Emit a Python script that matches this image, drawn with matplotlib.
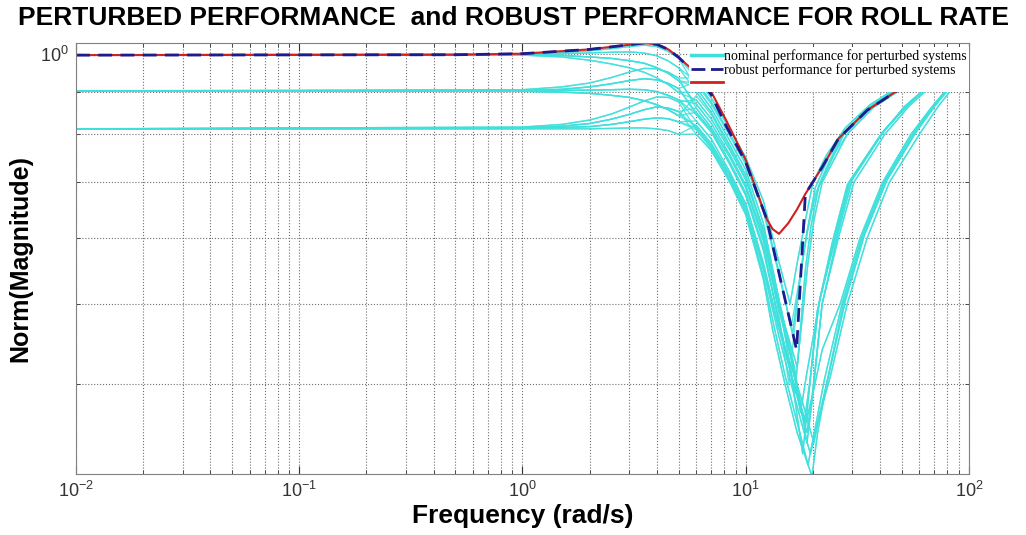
import numpy as np
import matplotlib.pyplot as plt
from matplotlib.lines import Line2D
from matplotlib.ticker import FixedLocator, NullFormatter

plt.rcParams['font.family'] = ['Liberation Sans', 'DejaVu Sans']
plt.rcParams['mathtext.default'] = 'regular'

# perturbed (nominal performance) curves: low frequency part, f <= 5 rad/s
f_left = [0.01, 1.0, 1.5, 2.0, 2.5, 3.0, 3.5, 4.0, 4.5, 5.0]
left_mag = {
    'T1': [0.997, 0.999, 1.003, 1.008, 1.014, 1.020, 1.024, 1.020, 1.006, 0.988],
    'T2': [0.997, 0.998, 1.000, 1.002, 1.004, 1.005, 1.002, 0.994, 0.980, 0.962],
    'T3': [0.997, 0.997, 0.995, 0.991, 0.987, 0.981, 0.974, 0.962, 0.947, 0.928],
    'T4': [0.997, 0.996, 0.991, 0.982, 0.972, 0.962, 0.950, 0.935, 0.918, 0.898],
    'M1': [0.902, 0.905, 0.912, 0.922, 0.936, 0.950, 0.960, 0.959, 0.950, 0.935],
    'M2': [0.902, 0.903, 0.906, 0.912, 0.920, 0.928, 0.933, 0.930, 0.921, 0.908],
    'M3': [0.902, 0.902, 0.903, 0.904, 0.905, 0.906, 0.905, 0.900, 0.891, 0.880],
    'M4': [0.902, 0.901, 0.899, 0.896, 0.891, 0.886, 0.878, 0.868, 0.856, 0.842],
    'B1': [0.812, 0.816, 0.822, 0.832, 0.846, 0.862, 0.877, 0.887, 0.886, 0.875],
    'B2': [0.812, 0.814, 0.818, 0.824, 0.834, 0.845, 0.856, 0.863, 0.860, 0.852],
    'B3': [0.812, 0.813, 0.815, 0.817, 0.822, 0.828, 0.834, 0.837, 0.835, 0.828],
    'B4': [0.812, 0.812, 0.812, 0.812, 0.813, 0.814, 0.814, 0.812, 0.808, 0.800],
}

# perturbed curves: roll-off, notch and recovery, f >= 6 rad/s
right_freq = {
    'R1': [6, 7, 8.5, 10, 12, 14, 15.8, 17, 18.5, 20, 23, 28, 36, 53, 70, 100],
    'R2': [6, 7, 8.5, 10, 12, 14, 16.2, 17.4, 18.8, 20.5, 23.5, 28, 36, 53, 70, 100],
    'R3': [6, 7, 8.5, 10, 12, 14, 16.6, 17.4, 18.5, 19.6, 21.2, 27.5, 36, 53, 70, 100],
    'R4': [6, 7, 8.5, 10, 12, 14, 17.0, 17.9, 19.0, 20.2, 22, 28.5, 37, 54, 72, 100],
    'R5': [6, 7, 8.5, 10, 12, 14, 16, 18.3, 19.3, 21.3, 25, 29, 40.5, 52, 69, 85, 100],
    'R6': [6, 7, 8.5, 10, 12, 14, 16, 18.0, 19.0, 20.9, 24.5, 28.5, 40, 51, 68, 84, 100],
    'R7': [6, 7, 8.5, 10, 12, 14, 16, 17.6, 18.7, 21.6, 25.5, 29.5, 41, 53, 70, 86, 100],
    'R8': [6, 7, 8.5, 10, 12, 14, 16.5, 18.8, 19.8, 22, 26, 30, 42, 54, 71, 87, 100],
    'R9': [6, 7, 8.5, 10, 12, 13.2, 15, 17, 19.8, 21, 23, 27.4, 33.5, 42, 57, 70, 86, 100],
    'R10': [6, 7, 8.5, 10, 12, 13.5, 15, 17, 19.0, 20.5, 22.5, 27, 33, 41.5, 56, 69, 85, 100],
    'R11': [6, 7, 8.5, 10, 12, 14, 16, 18, 20.2, 21.5, 23.5, 28, 34, 43, 58, 71, 87, 100],
    'R12': [6, 7, 8.5, 10, 12, 14, 16, 18.6, 20.0, 22, 26.5, 32.5, 41, 55, 68, 84, 100],
    'R13': [6, 7, 8.5, 10, 12, 14, 16.0, 17.3, 18.9, 20.6, 23.8, 29, 37, 55, 72, 100],
    'R14': [6, 7, 8.5, 10, 12, 14, 16, 18.8, 19.9, 22, 26, 30.5, 42, 54, 71, 87, 100],
    'R15': [6, 7, 8.5, 10, 12, 14, 16, 18, 19.5, 21, 24, 28.5, 35, 44, 60, 73, 89, 100],
    'R16': [6, 7, 8.5, 10, 12, 14, 15.6, 16.6, 18, 19.5, 21.5, 27, 35, 52, 70, 100],
}
right_mag = {
    'R1': [0.935, 0.885, 0.81, 0.75, 0.665, 0.565, 0.50, 0.56, 0.63, 0.70, 0.755, 0.815, 0.868, 0.927, 0.957, 0.985],
    'R2': [0.925, 0.875, 0.80, 0.74, 0.65, 0.55, 0.46, 0.53, 0.61, 0.69, 0.75, 0.805, 0.863, 0.923, 0.955, 0.985],
    'R3': [0.91, 0.86, 0.785, 0.725, 0.625, 0.51, 0.39, 0.45, 0.55, 0.62, 0.69, 0.80, 0.86, 0.92, 0.952, 0.985],
    'R4': [0.90, 0.85, 0.775, 0.715, 0.61, 0.50, 0.42, 0.48, 0.56, 0.63, 0.70, 0.80, 0.86, 0.92, 0.952, 0.982],
    'R5': [0.87, 0.825, 0.755, 0.695, 0.60, 0.50, 0.43, 0.36, 0.40, 0.50, 0.60, 0.70, 0.80, 0.865, 0.925, 0.955, 0.975],
    'R6': [0.85, 0.81, 0.74, 0.68, 0.585, 0.48, 0.41, 0.33, 0.38, 0.49, 0.595, 0.695, 0.795, 0.862, 0.922, 0.953, 0.975],
    'R7': [0.86, 0.815, 0.75, 0.69, 0.595, 0.495, 0.43, 0.37, 0.41, 0.51, 0.605, 0.705, 0.805, 0.868, 0.928, 0.957, 0.975],
    'R8': [0.88, 0.835, 0.765, 0.705, 0.615, 0.51, 0.42, 0.34, 0.38, 0.50, 0.61, 0.705, 0.81, 0.87, 0.93, 0.958, 0.975],
    'R9': [0.80, 0.765, 0.70, 0.64, 0.535, 0.465, 0.40, 0.35, 0.31, 0.35, 0.40, 0.50, 0.60, 0.70, 0.80, 0.865, 0.925, 0.955],
    'R10': [0.81, 0.77, 0.705, 0.645, 0.54, 0.465, 0.41, 0.36, 0.32, 0.355, 0.405, 0.50, 0.60, 0.70, 0.80, 0.865, 0.925, 0.955],
    'R11': [0.83, 0.79, 0.72, 0.66, 0.56, 0.47, 0.42, 0.38, 0.34, 0.37, 0.41, 0.505, 0.605, 0.705, 0.805, 0.868, 0.927, 0.953],
    'R12': [0.82, 0.78, 0.715, 0.655, 0.555, 0.47, 0.41, 0.36, 0.39, 0.44, 0.50, 0.60, 0.70, 0.80, 0.862, 0.922, 0.955],
    'R13': [0.92, 0.87, 0.795, 0.735, 0.645, 0.545, 0.47, 0.53, 0.61, 0.68, 0.745, 0.805, 0.86, 0.922, 0.952, 0.982],
    'R14': [0.845, 0.805, 0.735, 0.675, 0.58, 0.48, 0.41, 0.35, 0.39, 0.50, 0.60, 0.70, 0.80, 0.865, 0.925, 0.955, 0.972],
    'R15': [0.815, 0.775, 0.71, 0.65, 0.55, 0.46, 0.40, 0.355, 0.33, 0.36, 0.41, 0.50, 0.60, 0.70, 0.80, 0.865, 0.925, 0.945],
    'R16': [0.89, 0.845, 0.77, 0.71, 0.605, 0.49, 0.40, 0.47, 0.57, 0.64, 0.70, 0.80, 0.86, 0.92, 0.953, 0.985],
}
pairs = [('T1', 'R1'), ('T1', 'R3'), ('T2', 'R2'), ('T2', 'R4'), ('T3', 'R3'), ('T3', 'R5'),
         ('T4', 'R4'), ('T4', 'R8'), ('M1', 'R1'), ('M1', 'R7'), ('M2', 'R2'), ('M2', 'R6'),
         ('M3', 'R5'), ('M3', 'R11'), ('M4', 'R6'), ('M4', 'R12'), ('B1', 'R8'), ('B1', 'R10'),
         ('B2', 'R7'), ('B2', 'R9'), ('B3', 'R11'), ('B3', 'R10'), ('B4', 'R9'), ('B4', 'R12'),
         ('T3', 'R13'), ('M2', 'R14'), ('B2', 'R15'), ('M4', 'R16'), ('B3', 'R15'), ('M3', 'R14')]

# robust performance (worst case)
red_freq = [0.01, 0.5, 1.0, 2.0, 3.0, 3.5, 4.0, 4.5, 5.0, 6.0, 7.0, 8.2, 10, 12.4, 13.2, 14.1,
            15.5, 17, 18.5, 22, 26, 35, 50, 60, 75, 100]
red_mag = [0.996, 0.997, 1.0, 1.012, 1.025, 1.030, 1.026, 1.012, 0.99, 0.948, 0.90, 0.83, 0.745,
           0.633, 0.615, 0.607, 0.625, 0.65, 0.678, 0.73, 0.79, 0.855, 0.91, 0.935, 0.96, 0.975]
dash_freq = [0.01, 0.5, 1.0, 2.0, 3.0, 3.5, 4.0, 4.5, 5.0, 6.0, 7.0, 8.2, 10, 12.4, 16.9, 18.5,
             22, 26, 35, 50, 60, 75, 100]
dash_mag = [0.996, 0.997, 1.0, 1.012, 1.025, 1.030, 1.026, 1.012, 0.99, 0.945, 0.893, 0.817, 0.74,
            0.633, 0.44, 0.678, 0.73, 0.79, 0.855, 0.91, 0.935, 0.96, 0.975]

cyan = '#3fe0dc'
fig = plt.figure(figsize=(10.26, 5.35), dpi=100)
ax = fig.add_axes([0.0741, 0.114, 0.8703, 0.8056])

for l, r in pairs:
    ax.plot(f_left + right_freq[r], left_mag[l] + right_mag[r], color=cyan, lw=1.0, alpha=0.85)

ax.plot(red_freq, red_mag, color='#d02020', lw=1.5)
ax.plot(dash_freq, dash_mag, color='#1c1c8c', lw=2.0, ls=(0, (5, 3)))

ax.set_xscale('log')
ax.set_yscale('log')
ax.set_xlim(0.01, 100)
ax.set_ylim(0.312, 1.030)

ax.yaxis.set_major_locator(FixedLocator([1.0]))
ax.yaxis.set_minor_locator(FixedLocator([0.4, 0.5, 0.6, 0.7, 0.8, 0.9]))
ax.yaxis.set_minor_formatter(NullFormatter())

ax.grid(True, which='both', color='#707070', ls=':', lw=0.8)
ax.tick_params(which='both', direction='in', top=True, right=True, labelsize=13, colors='#333333')
ax.tick_params(which='major', length=6, pad=5)
ax.tick_params(which='minor', length=3)
for s in ax.spines.values():
    s.set_color('#808080')

ax.set_xlabel('Frequency (rad/s)', fontsize=19, fontweight='bold', labelpad=2)
ax.set_ylabel('Norm(Magnitude)', fontsize=18, fontweight='bold', labelpad=6)
fig.suptitle('PERTURBED PERFORMANCE  and ROBUST PERFORMANCE FOR ROLL RATE',
             fontsize=19, fontweight='bold', y=0.988)

handles = [Line2D([], [], color=cyan, lw=2.5),
           Line2D([], [], color='#1c1c8c', lw=2.0, ls=(0, (5, 2))),
           Line2D([], [], color='#d02020', lw=2.0)]
labels = ['nominal performance for perturbed systems', 'robust performance for perturbed systems', '']
ax.legend(handles, labels, loc='upper right', bbox_to_anchor=(1.0, 0.99),
          prop={'family': 'Liberation Serif', 'size': 10}, frameon=True, facecolor='white',
          edgecolor='none', framealpha=1, fancybox=False, handlelength=2.3, handletextpad=0.1,
          labelspacing=0.0, borderpad=0.15, borderaxespad=0.0)

fig.savefig('out.png', dpi=100)
